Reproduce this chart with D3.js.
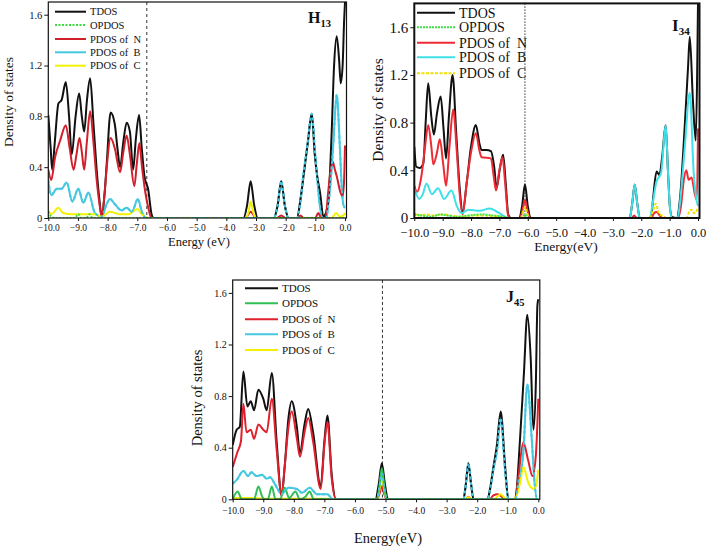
<!DOCTYPE html>
<html><head><meta charset="utf-8">
<script src="https://cdn.jsdelivr.net/npm/d3@7"></script>
<style>html,body{margin:0;padding:0;background:#fff;}svg{display:block;}</style>
</head><body>
<svg id="chart" width="710" height="547"></svg>
<script>
const seriesNames = ["TDOS","OPDOS","PDOS of  N","PDOS of  B","PDOS of  C"];
const xTicks = [-10,-9,-8,-7,-6,-5,-4,-3,-2,-1,0];
const yTicks = [0,0.4,0.8,1.2,1.6];

// ---- H13 ----
const tdosH13 = [[-10,0.81],[-9.92,0.55],[-9.87,0.38],[-9.78,0.6],[-9.66,0.9],[-9.55,0.93],[-9.41,1.07],[-9.3,0.8],[-9.21,0.5],[-9.08,0.8],[-8.96,0.98],[-8.87,0.8],[-8.79,0.68],[-8.7,0.92],[-8.59,1.1],[-8.48,0.75],[-8.37,0.38],[-8.28,0.15],[-8.2,0.01],[-8.1,0.2],[-8.03,0.43],[-7.9,0.83],[-7.76,0.74],[-7.67,0.55],[-7.58,0.4],[-7.47,0.6],[-7.36,0.75],[-7.25,0.68],[-7.14,0.38],[-7.05,0.62],[-6.94,0.81],[-6.85,0.55],[-6.76,0.33],[-6.63,0.22],[-6.52,0.03],[-6.45,0],[-3.42,0],[-3.3,0.1],[-3.18,0.29],[-3.06,0.1],[-2.94,0],[-2.4,0],[-2.27,0.1],[-2.15,0.29],[-2.03,0.1],[-1.9,0],[-1.62,0],[-1.5,0.15],[-1.38,0.36],[-1.25,0.6],[-1.12,0.82],[-1.02,0.5],[-0.93,0.32],[-0.84,0.2],[-0.73,0.01],[-0.66,0.03],[-0.56,0.14],[-0.45,0.67],[-0.37,1.19],[-0.28,1.43],[-0.2,1.25],[-0.145,1.06],[-0.08,1.2],[-0.03,1.55],[0,1.7]];
const opdosH13 = [[-10,0.05],[-9.9,0.01],[-9.8,0],[-9.1,0],[-8.99,0.03],[-8.88,0],[-8.72,0],[-8.62,0.03],[-8.5,0],[0,0]];
const pdosNH13 = [[-10,0.38],[-9.9,0.3],[-9.77,0.48],[-9.6,0.61],[-9.41,0.73],[-9.28,0.55],[-9.15,0.38],[-9.05,0.5],[-8.95,0.63],[-8.87,0.52],[-8.79,0.38],[-8.7,0.6],[-8.59,0.84],[-8.48,0.6],[-8.37,0.3],[-8.28,0.12],[-8.2,0.01],[-8.1,0.2],[-8.03,0.4],[-7.9,0.63],[-7.76,0.55],[-7.58,0.36],[-7.47,0.52],[-7.36,0.65],[-7.25,0.5],[-7.1,0.25],[-7.02,0.42],[-6.93,0.59],[-6.85,0.42],[-6.76,0.25],[-6.63,0.08],[-6.52,0],[-3.35,0],[-3.18,0.05],[-3.0,0],[-2.3,0],[-2.15,0.02],[-2.0,0],[-1.6,0],[-1.5,0.02],[-1.4,0],[-1.0,0],[-0.9,0.04],[-0.8,0],[-0.66,0],[-0.56,0.22],[-0.48,0.38],[-0.41,0.44],[-0.34,0.38],[-0.28,0.33],[-0.15,0.2],[-0.08,0.17],[-0.03,0.3],[0,0.57]];
const pdosBH13 = [[-10,0.3],[-9.9,0.18],[-9.71,0.23],[-9.55,0.23],[-9.38,0.28],[-9.19,0.13],[-8.99,0.23],[-8.82,0.12],[-8.65,0.2],[-8.43,0.04],[-8.2,0.01],[-8.05,0.1],[-7.92,0.15],[-7.76,0.11],[-7.53,0.06],[-7.36,0.08],[-7.18,0.05],[-6.98,0.15],[-6.85,0.05],[-6.7,0],[-2.4,0],[-2.27,0.1],[-2.15,0.29],[-2.03,0.1],[-1.9,0],[-1.62,0],[-1.5,0.13],[-1.4,0.35],[-1.28,0.55],[-1.12,0.82],[-1.02,0.55],[-0.95,0.35],[-0.85,0.1],[-0.75,0],[-0.62,0],[-0.58,0.07],[-0.5,0.24],[-0.39,0.6],[-0.28,0.97],[-0.17,0.54],[-0.11,0.24],[-0.05,0.1],[0,0.08]];
const pdosCH13 = [[-10,0.06],[-9.9,0.03],[-9.66,0.08],[-9.5,0.04],[-9.2,0.03],[-8.8,0.03],[-8.45,0.03],[-8.2,0.01],[-7.92,0.05],[-7.6,0.03],[-7.3,0.03],[-7.0,0.07],[-6.85,0.03],[-6.6,0],[-3.35,0],[-3.25,0.05],[-3.18,0.13],[-3.1,0.05],[-3.0,0],[-0.45,0],[-0.3,0.04],[-0.18,0.01],[-0.05,0.02],[0,0.04]];

// ---- I34 ----
const tdosI34 = [[-10,0.6],[-9.93,0.43],[-9.8,0.42],[-9.68,0.46],[-9.6,0.8],[-9.51,1.13],[-9.4,0.85],[-9.31,0.7],[-9.2,0.88],[-9.07,1.02],[-8.97,0.75],[-8.88,0.5],[-8.78,0.85],[-8.65,1.2],[-8.52,0.7],[-8.4,0.25],[-8.3,0.04],[-8.15,0.3],[-8.0,0.6],[-7.83,0.78],[-7.7,0.62],[-7.63,0.57],[-7.46,0.57],[-7.3,0.56],[-7.18,0.42],[-7.1,0.25],[-6.98,0.42],[-6.87,0.53],[-6.78,0.3],[-6.69,0.03],[-6.6,0],[-6.3,0],[-6.2,0.1],[-6.1,0.28],[-6.0,0.1],[-5.9,0],[-2.41,0],[-2.32,0.12],[-2.23,0.28],[-2.14,0.12],[-2.05,0],[-1.7,0],[-1.64,0.03],[-1.58,0.17],[-1.46,0.39],[-1.36,0.36],[-1.26,0.52],[-1.14,0.78],[-1.06,0.4],[-0.99,0.09],[-0.92,0.01],[-0.75,0],[-0.64,0.15],[-0.47,0.76],[-0.35,1.27],[-0.29,1.52],[-0.18,0.99],[-0.08,0.65],[-0.03,1.2],[0,1.8]];
const opdosI34 = [[-10,0.03],[-9.7,0.02],[-9.4,0.01],[-9.1,0.03],[-8.8,0.02],[-8.5,0.01],[-8.1,0.02],[-7.6,0.03],[-7.2,0.02],[-6.8,0.01],[-6.6,0],[-6.2,0],[-6.1,0.03],[-6.0,0],[0,0]];
const pdosNI34 = [[-10,0.27],[-9.9,0.22],[-9.75,0.35],[-9.62,0.6],[-9.51,0.78],[-9.4,0.6],[-9.33,0.45],[-9.2,0.55],[-9.1,0.66],[-8.98,0.45],[-8.88,0.27],[-8.76,0.6],[-8.63,0.91],[-8.5,0.55],[-8.4,0.2],[-8.3,0.03],[-8.15,0.3],[-8.0,0.55],[-7.83,0.71],[-7.7,0.56],[-7.63,0.51],[-7.3,0.5],[-7.2,0.35],[-7.12,0.23],[-7.0,0.4],[-6.89,0.51],[-6.8,0.3],[-6.69,0.02],[-6.6,0],[-6.28,0],[-6.2,0.05],[-6.1,0.15],[-6.0,0.05],[-5.92,0],[-2.35,0],[-2.25,0.02],[-2.15,0],[-1.65,0],[-1.55,0.04],[-1.46,0.05],[-1.35,0.02],[-1.25,0],[-0.7,0],[-0.6,0.1],[-0.5,0.32],[-0.41,0.4],[-0.33,0.32],[-0.23,0.34],[-0.11,0.2],[-0.04,0.15],[0,0.75]];
const pdosBI34 = [[-10,0.25],[-9.82,0.16],[-9.7,0.2],[-9.57,0.29],[-9.38,0.2],[-9.16,0.25],[-8.95,0.16],[-8.69,0.23],[-8.5,0.1],[-8.33,0.04],[-8.1,0.07],[-7.7,0.06],[-7.34,0.08],[-7.0,0.04],[-6.69,0],[-2.41,0],[-2.32,0.12],[-2.23,0.28],[-2.14,0.12],[-2.05,0],[-1.7,0],[-1.6,0.12],[-1.47,0.3],[-1.3,0.38],[-1.14,0.78],[-1.06,0.4],[-0.99,0.09],[-0.92,0],[-0.72,0],[-0.64,0.12],[-0.47,0.58],[-0.29,1.05],[-0.15,0.37],[-0.05,0.15],[0,0.1]];
const pdosCI34 = [[-10,0.04],[-9.85,0.02],[-9.6,0.03],[-9.3,0.02],[-9.0,0.03],[-8.7,0.02],[-8.4,0.01],[-8.0,0.02],[-7.5,0.02],[-7.0,0.01],[-6.7,0],[-6.25,0],[-6.1,0.09],[-5.95,0],[-1.7,0],[-1.6,0.05],[-1.49,0.12],[-1.38,0.04],[-1.25,0.02],[-1.1,0],[-0.4,0],[-0.3,0.06],[-0.23,0.07],[-0.13,0.04],[-0.05,0.06],[0,0.09]];

// ---- J45 ----
const tdosJ45 = [[-10,0.42],[-9.87,0.54],[-9.77,0.56],[-9.65,0.99],[-9.52,0.72],[-9.41,0.76],[-9.3,0.69],[-9.16,0.85],[-9.0,0.78],[-8.89,0.69],[-8.72,0.98],[-8.56,0.44],[-8.4,0.03],[-8.3,0.25],[-8.18,0.62],[-8.07,0.76],[-7.9,0.56],[-7.8,0.36],[-7.65,0.58],[-7.53,0.7],[-7.37,0.52],[-7.12,0.1],[-7.0,0.45],[-6.9,0.65],[-6.76,0.19],[-6.62,0],[-5.33,0],[-5.22,0.12],[-5.12,0.28],[-5.02,0.12],[-4.92,0],[-2.45,0],[-2.37,0.12],[-2.29,0.28],[-2.2,0.12],[-2.12,0],[-1.66,0],[-1.58,0.08],[-1.47,0.25],[-1.36,0.41],[-1.23,0.68],[-1.09,0.27],[-0.98,0],[-0.78,0],[-0.71,0.07],[-0.6,0.46],[-0.47,0.98],[-0.36,1.43],[-0.25,1.1],[-0.16,0.54],[-0.08,0.9],[-0.03,1.5],[0,1.55]];
const opdosJ45 = [[-10,0],[-9.84,0.06],[-9.7,0],[-9.3,0],[-9.16,0.1],[-9.05,0.03],[-8.98,0],[-8.85,0],[-8.72,0.1],[-8.6,0],[-8.45,0],[-8.3,0.09],[-8.15,0.01],[-7.95,0.06],[-7.8,0],[-7.62,0.02],[-7.48,0.06],[-7.35,0],[-5.28,0],[-5.2,0.1],[-5.12,0.24],[-5.04,0.1],[-4.96,0],[0,0]];
const pdosNJ45 = [[-10,0.25],[-9.84,0.37],[-9.73,0.45],[-9.65,0.74],[-9.55,0.52],[-9.41,0.54],[-9.3,0.47],[-9.16,0.58],[-9.0,0.54],[-8.89,0.52],[-8.72,0.78],[-8.56,0.38],[-8.4,0.03],[-8.3,0.25],[-8.18,0.55],[-8.07,0.68],[-7.9,0.47],[-7.8,0.33],[-7.65,0.52],[-7.53,0.63],[-7.37,0.45],[-7.12,0.08],[-7.0,0.42],[-6.9,0.6],[-6.76,0.16],[-6.62,0],[-5.28,0],[-5.2,0.04],[-5.12,0.1],[-5.04,0.04],[-4.96,0],[-2.38,0],[-2.29,0.02],[-2.2,0],[-1.6,0],[-1.47,0.03],[-1.33,0.04],[-1.2,0.02],[-1.1,0],[-0.75,0],[-0.65,0.18],[-0.49,0.44],[-0.33,0.3],[-0.19,0.18],[-0.08,0.34],[0,0.78]];
const pdosBJ45 = [[-10,0.12],[-9.87,0.15],[-9.65,0.22],[-9.5,0.18],[-9.39,0.21],[-9.22,0.18],[-9.04,0.19],[-8.89,0.16],[-8.78,0.17],[-8.6,0.11],[-8.4,0.04],[-8.18,0.09],[-7.9,0.08],[-7.73,0.05],[-7.48,0.09],[-7.25,0.04],[-6.9,0.04],[-6.72,0],[-5.28,0],[-5.2,0.09],[-5.12,0.2],[-5.04,0.09],[-4.96,0],[-2.45,0],[-2.37,0.12],[-2.29,0.28],[-2.2,0.12],[-2.12,0],[-1.66,0],[-1.58,0.07],[-1.47,0.23],[-1.35,0.38],[-1.23,0.63],[-1.09,0.23],[-0.98,0],[-0.75,0],[-0.66,0.12],[-0.49,0.36],[-0.36,0.89],[-0.22,0.49],[-0.13,0.15],[-0.04,0],[0,0]];
const pdosCJ45 = [[-10,0.01],[-9.5,0.01],[-9,0.005],[-8,0.005],[-7,0.005],[-6.6,0],[-5.28,0],[-5.2,0.07],[-5.12,0.17],[-5.04,0.07],[-4.96,0],[-2.4,0],[-2.29,0.015],[-2.18,0],[-1.45,0],[-1.3,0.03],[-1.23,0.04],[-1.1,0.01],[-0.95,0],[-0.75,0.01],[-0.6,0.12],[-0.49,0.25],[-0.33,0.13],[-0.16,0.08],[-0.08,0.1],[0,0.23]];

const svg = d3.select("#chart");
const FONT = "'Liberation Serif','Times New Roman',serif";

const panels = [
  { id:"H", title:"H", sub:"13", series:[tdosH13,opdosH13,pdosNH13,pdosBH13,pdosCH13],
    colors:["#111111","#3ddc3d","#d0202c","#45c8e0","#f2f200"],
    dashes:[null,"2,1.5",null,null,null], overlayB:true,
    x0:48.3, x1:345, yBottom:218, yTop:2, yMax:1.7, fermi:-6.68, fermiDash:"3,3",
    tickFont:10.5, xTickFont:9.5, xTickY:231, yLabelX:8, yLabelY:102, yLabelFont:13.5,
    xLabel:"Energy (eV)", xLabelX:199, xLabelY:246, xLabelFont:12.5,
    legX0:55, legX1:86, legY:[11.7,25,39,52.3,65.7], legFont:10.5,
    titleX:308, titleY:23, titleFont:16, subFont:10.5, frameW:1.2 },
  { id:"I", title:"I", sub:"34", series:[tdosI34,opdosI34,pdosNI34,pdosBI34,pdosCI34],
    colors:["#111111","#3ee04a","#ee2a35","#3fe0e8","#f0e000"],
    dashes:[null,"2,1",null,null,"3,1.5"], overlayB:false,
    x0:414.3, x1:698, yBottom:218, yTop:3.4, yMax:1.8, fermi:-6.1, fermiDash:"1.5,1.5",
    tickFont:15, xTickFont:12.5, xTickY:237, yLabelX:378, yLabelY:110, yLabelFont:15.5,
    xLabel:"Energy(eV)", xLabelX:566, xLabelY:251, xLabelFont:13.5,
    legX0:417, legX1:455, legY:[12.7,27.3,42.7,57.3,73.3], legFont:14,
    titleX:672, titleY:31, titleFont:17, subFont:11, frameW:2 },
  { id:"J", title:"J", sub:"45", series:[tdosJ45,opdosJ45,pdosNJ45,pdosBJ45,pdosCJ45],
    colors:["#111111","#2fbf55","#e0202c","#45c8e0","#f4f000"],
    dashes:[null,null,null,null,null], overlayB:true,
    x0:232.7, x1:538.3, yBottom:499.3, yTop:280, yMax:1.7, fermi:-5.1, fermiDash:"3,2.5",
    tickFont:10, xTickFont:9.5, xTickY:514, yLabelX:197, yLabelY:398, yLabelFont:14.5,
    xLabel:"Energy(eV)", xLabelX:388, xLabelY:543, xLabelFont:14.5,
    legX0:245, legX1:278, legY:[288.3,303.3,319.3,334.3,350], legFont:11,
    titleX:506, titleY:302, titleFont:16, subFont:10.5, frameW:1.2 }
];

panels.forEach(p => {
  const x = d3.scaleLinear().domain([-10,0]).range([p.x0,p.x1]);
  const y = d3.scaleLinear().domain([0,p.yMax]).range([p.yBottom,p.yTop]);
  const g = svg.append("g");
  const clipId = "clip"+p.id;
  svg.append("defs").append("clipPath").attr("id",clipId)
    .append("rect").attr("x",p.x0).attr("y",p.yTop).attr("width",p.x1-p.x0+2).attr("height",p.yBottom-p.yTop);

  // axes
  const ya = d3.axisLeft(y).tickValues(yTicks).tickSize(4).tickFormat(d => d===0?"0":d3.format(".1f")(d));
  const yg = g.append("g").attr("transform",`translate(${p.x0},0)`).call(ya);
  const xa = d3.axisBottom(x).tickValues(xTicks).tickSize(3).tickFormat(d3.format(".1f"));
  const xg = g.append("g").attr("transform",`translate(0,${p.yBottom})`).call(xa);
  [yg,xg].forEach(a => { a.select(".domain").remove(); a.selectAll("line").attr("stroke","#111"); });
  yg.selectAll("text").attr("font-family",FONT).attr("font-size",p.tickFont).attr("fill","#111").attr("x",-6);
  xg.selectAll("text").attr("font-family",FONT).attr("font-size",p.xTickFont).attr("fill","#111").attr("y",p.xTickY-p.yBottom).attr("dy","0");

  // fermi line
  g.append("line").attr("x1",x(p.fermi)).attr("x2",x(p.fermi)).attr("y1",p.yTop).attr("y2",p.yBottom)
    .attr("stroke","#333").attr("stroke-width",1).attr("stroke-dasharray",p.fermiDash);

  // curves
  const line = d3.line().x(d=>x(d[0])).y(d=>y(d[1])).curve(d3.curveMonotoneX);
  const order = p.overlayB ? [3,0,2,4,1] : [0,2,3,4,1];
  const cg = g.append("g").attr("clip-path",`url(#${clipId})`);
  order.forEach(i => {
    cg.append("path").datum(p.series[i]).attr("d",line).attr("fill","none")
      .attr("stroke",p.colors[i]).attr("stroke-width",2).attr("stroke-linejoin","round")
      .attr("stroke-dasharray",p.dashes[i]);
  });
  if (p.overlayB) {
    cg.append("path").datum(p.series[3]).attr("d",line).attr("fill","none")
      .attr("stroke",p.colors[3]).attr("stroke-width",2).attr("stroke-dasharray","3,2.5");
  }

  // frame
  g.append("rect").attr("x",p.x0).attr("y",p.yTop).attr("width",p.x1-p.x0+1.5).attr("height",p.yBottom-p.yTop)
    .attr("fill","none").attr("stroke","#111").attr("stroke-width",p.frameW);

  // legend
  seriesNames.forEach((n,i) => {
    g.append("line").attr("x1",p.legX0).attr("x2",p.legX1).attr("y1",p.legY[i]).attr("y2",p.legY[i])
      .attr("stroke",p.colors[i]).attr("stroke-width",2).attr("stroke-dasharray",p.dashes[i]);
    g.append("text").attr("x",p.legX1+4).attr("y",p.legY[i]).attr("dy","0.35em")
      .attr("font-family",FONT).attr("font-size",p.legFont).attr("fill","#111").attr("xml:space","preserve").text(n);
  });

  // title
  const t = g.append("text").attr("x",p.titleX).attr("y",p.titleY).attr("font-family",FONT).attr("font-weight","bold").attr("fill","#111");
  t.append("tspan").attr("font-size",p.titleFont).text(p.title);
  t.append("tspan").attr("font-size",p.subFont).attr("dy",4).text(p.sub);

  // axis labels
  g.append("text").attr("transform",`translate(${p.yLabelX},${p.yLabelY}) rotate(-90)`).attr("text-anchor","middle")
    .attr("dy","0.35em").attr("font-family",FONT).attr("font-size",p.yLabelFont).attr("fill","#111").text("Density of states");
  g.append("text").attr("x",p.xLabelX).attr("y",p.xLabelY).attr("text-anchor","middle")
    .attr("font-family",FONT).attr("font-size",p.xLabelFont).attr("fill","#111").text(p.xLabel);
});
</script>
</body></html>
